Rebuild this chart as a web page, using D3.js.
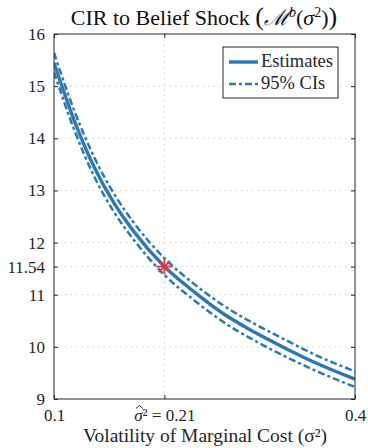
<!DOCTYPE html>
<html><head><meta charset="utf-8">
<script src="https://cdn.jsdelivr.net/npm/d3@7"></script>
<style>body{margin:0;background:#fff}svg{display:block}text{font-family:'Liberation Serif','Times New Roman',serif}</style>
</head><body><svg id="c" width="368" height="448"></svg>
<script>
const sigma2 = [0.10, 0.12, 0.14, 0.16, 0.18, 0.21, 0.24, 0.27, 0.30, 0.33, 0.36, 0.40];
const estimates = [15.45, 14.35, 13.45, 12.75, 12.20, 11.54, 11.05, 10.62, 10.28, 9.98, 9.70, 9.38];
const ciUpper  = [15.64, 14.54, 13.64, 12.93, 12.37, 11.70, 11.20, 10.78, 10.44, 10.14, 9.85, 9.53];
const ciLower  = [15.27, 14.17, 13.27, 12.58, 12.04, 11.38, 10.89, 10.46, 10.12, 9.82, 9.55, 9.23];
const yTicks = [9, 10, 11, 11.54, 12, 13, 14, 15, 16];
const xTicks = [0.1, 0.21, 0.4];
const xTickLabels = ["0.1", "σ² = 0.21", "0.4"];
const pointEst = {x: 0.21, y: 11.54};

const svg = d3.select("#c");
const L = 54, R = 355, T = 34, B = 399;
const x = d3.scaleLinear().domain([0.1, 0.4]).range([L, R]);
const y = d3.scaleLinear().domain([9, 16]).range([B, T]);
const serif = "'Liberation Serif', 'Times New Roman', serif";
const blue = "#2a78b8";
const ink = "#262626";

// grid
const g = svg.append("g");
yTicks.filter(v => v > 9 && v < 16).forEach(v => {
  g.append("line").attr("x1", L).attr("x2", R).attr("y1", y(v)).attr("y2", y(v))
    .attr("stroke", "#cfcfcf").attr("stroke-width", 1).attr("stroke-dasharray", "1.5,4");
});
xTicks.filter(v => v > 0.1 && v < 0.4).forEach(v => {
  g.append("line").attr("x1", x(v)).attr("x2", x(v)).attr("y1", T).attr("y2", B)
    .attr("stroke", "#cfcfcf").attr("stroke-width", 1).attr("stroke-dasharray", "1.5,4");
});

// lines
const line = d3.line().x((d, i) => x(sigma2[i])).y(d => y(d)).curve(d3.curveMonotoneX);
svg.append("clipPath").attr("id", "clp").append("rect")
  .attr("x", L).attr("y", T).attr("width", R - L).attr("height", B - T);
const ciDash = "7,3,3,3";
[ciUpper, ciLower].forEach(arr => {
  svg.append("path").attr("d", line(arr)).attr("fill", "none").attr("stroke", blue)
    .attr("stroke-width", 2.5).attr("stroke-dasharray", ciDash).attr("clip-path", "url(#clp)");
});
svg.append("path").attr("d", line(estimates)).attr("fill", "none").attr("stroke", blue)
  .attr("stroke-width", 3.4).attr("clip-path", "url(#clp)");

// star marker
const sx = x(pointEst.x), sy = y(pointEst.y), r = 8;
const star = svg.append("g").attr("stroke", "#e4343c").attr("stroke-width", 1.8);
[[0, 1], [1, 0], [0.707, 0.707], [0.707, -0.707]].forEach(([a, b]) => {
  star.append("line").attr("x1", sx - a * r).attr("y1", sy - b * r).attr("x2", sx + a * r).attr("y2", sy + b * r);
});

// axes box
svg.append("rect").attr("x", L).attr("y", T).attr("width", R - L).attr("height", B - T)
  .attr("fill", "none").attr("stroke", ink).attr("stroke-width", 1);

// axes
const ya = svg.append("g").attr("transform", `translate(${L},0)`)
  .call(d3.axisLeft(y).tickValues(yTicks).tickSize(-4).tickPadding(9)
    .tickFormat(d => d === 11.54 ? "11.54" : d3.format("d")(d)));
const yaR = svg.append("g").attr("transform", `translate(${R},0)`)
  .call(d3.axisRight(y).tickValues(yTicks).tickSize(-4).tickFormat(""));
const xa = svg.append("g").attr("transform", `translate(0,${B})`)
  .call(d3.axisBottom(x).tickValues(xTicks).tickSize(-4).tickFormat((d, i) => xTickLabels[i]));
const xaT = svg.append("g").attr("transform", `translate(0,${T})`)
  .call(d3.axisTop(x).tickValues(xTicks).tickSize(-4).tickFormat(""));
[ya, yaR, xa, xaT].forEach(a => {
  a.attr("font-family", serif);
  a.select(".domain").remove();
  a.selectAll(".tick line").attr("stroke", ink);
  a.selectAll("text").attr("font-family", serif).attr("font-size", 17).attr("fill", ink);
});
xa.selectAll("text").attr("y", 22).attr("dy", 0);
// middle label: italic sigma, with a drawn hat above it
xa.selectAll(".tick").filter((d, i) => i === 1).each(function() {
  const tick = d3.select(this);
  const t = tick.select("text");
  t.text(null);
  t.append("tspan").attr("font-style", "italic").text("σ");
  t.append("tspan").text("² = 0.21");
  const node = t.node();
  const p0 = node.getStartPositionOfChar(0), p1 = node.getEndPositionOfChar(0);
  const cx = (p0.x + p1.x) / 2 + 1;
  tick.append("path").attr("d", `M${cx - 3.5},${9.5} L${cx},${6.5} L${cx + 3.5},${9.5}`)
    .attr("fill", "none").attr("stroke", ink).attr("stroke-width", 1);
});

// axis label
svg.append("text").attr("x", 205).attr("y", 442).attr("text-anchor", "middle")
  .attr("font-family", serif).attr("font-size", 19.5).attr("fill", ink)
  .text("Volatility of Marginal Cost (σ²)");

// title
const title = svg.append("text").attr("x", 204).attr("y", 25).attr("text-anchor", "middle")
  .attr("font-family", serif).attr("font-size", 22).attr("fill", "#111");
title.append("tspan").text("CIR to Belief Shock ");
title.append("tspan").attr("font-size", 26).text("(");
title.append("tspan").attr("font-style", "italic").text("ℳ");
title.append("tspan").attr("font-size", 14).attr("dy", -8).attr("font-style", "italic").text("b");
title.append("tspan").attr("dy", 8).text("(");
title.append("tspan").attr("font-style", "italic").text("σ");
title.append("tspan").attr("font-size", 14).attr("dy", -8).text("2");
title.append("tspan").attr("dy", 8).text(")");
title.append("tspan").attr("font-size", 26).text(")");

// legend
const lg = svg.append("g");
lg.append("rect").attr("x", 223).attr("y", 47).attr("width", 115).attr("height", 51)
  .attr("fill", "#fff").attr("stroke", ink).attr("stroke-width", 1);
lg.append("line").attr("x1", 229).attr("x2", 258).attr("y1", 62).attr("y2", 62)
  .attr("stroke", blue).attr("stroke-width", 3.4);
lg.append("line").attr("x1", 229).attr("x2", 258).attr("y1", 84).attr("y2", 84)
  .attr("stroke", blue).attr("stroke-width", 2.5).attr("stroke-dasharray", ciDash);
lg.append("text").attr("x", 261).attr("y", 67).attr("font-family", serif).attr("font-size", 18.5)
  .attr("fill", ink).text("Estimates");
lg.append("text").attr("x", 261).attr("y", 89).attr("font-family", serif).attr("font-size", 18.5)
  .attr("fill", ink).text("95% CIs");
</script></body></html>
